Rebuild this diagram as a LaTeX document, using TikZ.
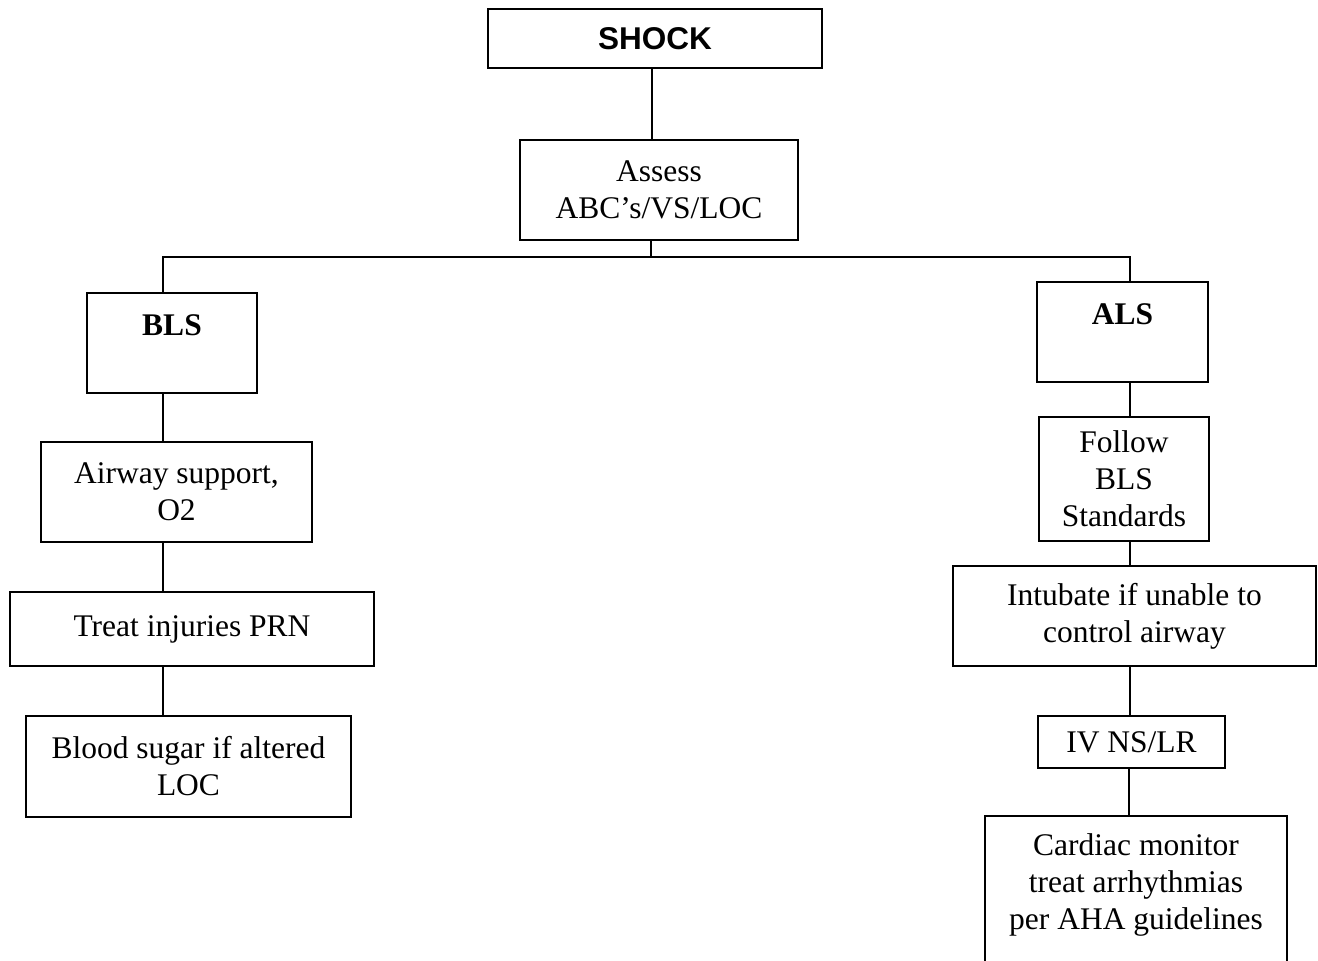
\documentclass[tikz,border=0pt]{standalone}
\usepackage{fontspec}
\setmainfont{Liberation Serif}
\newfontfamily\arialfont{Liberation Sans}
\begin{document}
\begin{tikzpicture}[x=1pt,y=-1pt,
  every node/.style={font=\fontsize{31.5}{37}\selectfont},
  box/.style={draw=black,line width=1.5pt,fill=white,align=center,inner sep=0pt},
  toptext/.style={box,text height=42pt,text depth=58pt},
  conn/.style={draw=black,line width=1.5pt}]
\useasboundingbox (0,0) rectangle (1318,961);
\clip (0,0) rectangle (1318,961);
% vertical line positions
\coordinate (xM) at (651,0);
\coordinate (xL) at (163,0);
\coordinate (xR) at (1130,0);
\coordinate (split) at (651,257);
% nodes
\node[box,minimum width=334pt,minimum height=59pt] (shock) at (655,38.5) {\arialfont\bfseries SHOCK};
\node[box,minimum width=278pt,minimum height=100pt] (assess) at (659,190) {Assess\\ABC’s/VS/LOC};
\node[toptext,minimum width=170pt] (bls) at (172,343) {\textbf{BLS}};
\node[box,minimum width=271pt,minimum height=100pt] (airway) at (176.5,492) {Airway support,\\O2};
\node[box,minimum width=364pt,minimum height=74pt] (treat) at (192,629) {Treat injuries PRN};
\node[box,minimum width=325pt,minimum height=101pt] (blood) at (188.5,766.5) {Blood sugar if altered\\LOC};
\node[toptext,minimum width=171pt] (als) at (1122.5,332) {\textbf{ALS}};
\node[box,minimum width=170pt,minimum height=124pt] (follow) at (1124,479) {Follow\\BLS\\Standards};
\node[box,minimum width=363pt,minimum height=100pt] (intubate) at (1134.5,616) {Intubate if unable to\\control airway};
\node[box,minimum width=187pt,minimum height=52pt] (iv) at (1131.5,742) {IV NS/LR};
\node[box,minimum width=302pt,inner ysep=17.5pt,anchor=north] (cardiac) at (1136,815) {Cardiac monitor\\treat arrhythmias\\per AHA guidelines\\\rule{0pt}{40pt}};
% connectors
\draw[conn] (shock.south -| 652,0) -- (assess.north -| 652,0);
\draw[conn] (assess.south -| xM) -- (split);
\draw[conn] (bls.north -| xL) |- (split) -| (als.north -| xR);
\draw[conn] (bls.south -| xL) -- (airway.north -| xL);
\draw[conn] (airway.south -| xL) -- (treat.north -| xL);
\draw[conn] (treat.south -| xL) -- (blood.north -| xL);
\draw[conn] (als.south -| xR) -- (follow.north -| xR);
\draw[conn] (follow.south -| xR) -- (intubate.north -| xR);
\draw[conn] (intubate.south -| xR) -- (iv.north -| xR);
\draw[conn] (iv.south -| 1129,0) -- (cardiac.north -| 1129,0);
\end{tikzpicture}
\end{document}
